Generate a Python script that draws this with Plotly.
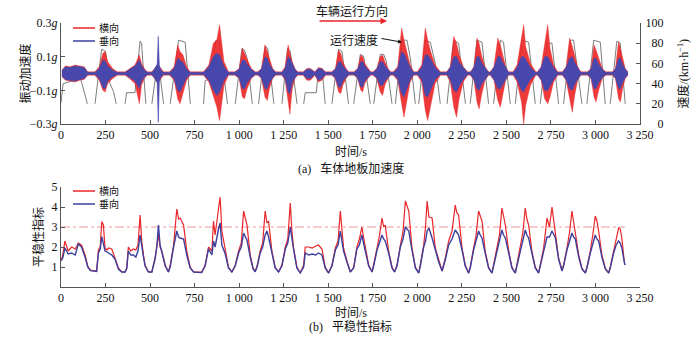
import plotly.graph_objects as go

# ---------------- data ----------------
# (a) vibration acceleration envelopes (g), one row per run between stations
ACC_T = [
    5, 25, 50, 80, 105, 130, 150,
    190, 215, 235, 248, 262, 290, 315,
    360, 385, 415, 440, 452, 470, 485,
    510, 525, 540, 546, 552, 562, 575,
    610, 635, 655, 668, 685, 705, 725,
    800, 830, 855, 875, 890, 915, 940,
    975, 1000, 1018, 1030, 1045, 1068, 1090,
    1105, 1125, 1145, 1158, 1170, 1188, 1205,
    1240, 1258, 1275, 1285, 1298, 1313, 1328,
    1360, 1380, 1400, 1425, 1445, 1465, 1485,
    1520, 1540, 1558, 1570, 1582, 1600, 1615,
    1645, 1665, 1683, 1693, 1705, 1722, 1738,
    1752, 1772, 1792, 1805, 1818, 1835, 1850,
    1865, 1890, 1912, 1925, 1940, 1960, 1980,
    2000, 2025, 2045, 2058, 2075, 2100, 2130,
    2165, 2185, 2205, 2220, 2235, 2258, 2282,
    2298, 2318, 2335, 2347, 2360, 2380, 2400,
    2410, 2430, 2452, 2466, 2480, 2496, 2512,
    2538, 2560, 2585, 2597, 2608, 2635, 2665,
    2675, 2695, 2715, 2732, 2745, 2765, 2788,
    2815, 2835, 2855, 2870, 2883, 2900, 2918,
    2955, 2975, 2992, 3003, 3018, 3038, 3058,
    3095, 3112, 3130, 3140, 3152, 3167, 3182,
]
RED_UP = [
    0.02, 0.045, 0.04, 0.05, 0.045, 0.04, 0.01,
    0.01, 0.04, 0.12, 0.13, 0.07, 0.03, 0.01,
    0.01, 0.03, 0.05, 0.11, 0.06, 0.025, 0.01,
    0.01, 0.03, 0.05, 0.05, 0.04, 0.03, 0.01,
    0.01, 0.04, 0.17, 0.13, 0.11, 0.04, 0.01,
    0.01, 0.05, 0.18, 0.20, 0.29, 0.07, 0.01,
    0.01, 0.03, 0.15, 0.12, 0.08, 0.03, 0.01,
    0.01, 0.03, 0.17, 0.13, 0.09, 0.03, 0.01,
    0.01, 0.04, 0.17, 0.12, 0.07, 0.03, 0.01,
    0.01, 0.03, 0.03, 0.01, 0.035, 0.03, 0.01,
    0.01, 0.03, 0.14, 0.12, 0.07, 0.03, 0.01,
    0.01, 0.03, 0.11, 0.10, 0.06, 0.03, 0.01,
    0.01, 0.03, 0.10, 0.11, 0.07, 0.03, 0.01,
    0.01, 0.04, 0.27, 0.20, 0.13, 0.05, 0.01,
    0.01, 0.05, 0.27, 0.20, 0.13, 0.05, 0.01,
    0.01, 0.04, 0.22, 0.18, 0.11, 0.04, 0.01,
    0.01, 0.04, 0.21, 0.18, 0.11, 0.04, 0.01,
    0.01, 0.04, 0.21, 0.17, 0.11, 0.04, 0.01,
    0.01, 0.05, 0.20, 0.29, 0.16, 0.06, 0.01,
    0.01, 0.04, 0.17, 0.29, 0.15, 0.05, 0.01,
    0.01, 0.04, 0.21, 0.16, 0.11, 0.04, 0.01,
    0.01, 0.03, 0.17, 0.14, 0.09, 0.03, 0.01,
    0.01, 0.03, 0.19, 0.15, 0.09, 0.03, 0.01,
]
RED_LO = [
    -0.02, -0.04, -0.045, -0.05, -0.04, -0.035, -0.01,
    -0.01, -0.04, -0.10, -0.11, -0.06, -0.03, -0.01,
    -0.01, -0.03, -0.06, -0.18, -0.07, -0.025, -0.01,
    -0.01, -0.03, -0.05, -0.06, -0.04, -0.03, -0.01,
    -0.01, -0.04, -0.15, -0.18, -0.11, -0.04, -0.01,
    -0.01, -0.05, -0.14, -0.20, -0.28, -0.07, -0.01,
    -0.01, -0.03, -0.14, -0.15, -0.09, -0.03, -0.01,
    -0.01, -0.03, -0.14, -0.16, -0.09, -0.03, -0.01,
    -0.01, -0.04, -0.18, -0.24, -0.09, -0.03, -0.01,
    -0.01, -0.04, -0.04, -0.01, -0.05, -0.04, -0.01,
    -0.01, -0.03, -0.11, -0.12, -0.07, -0.03, -0.01,
    -0.01, -0.03, -0.10, -0.11, -0.06, -0.03, -0.01,
    -0.01, -0.03, -0.11, -0.13, -0.07, -0.03, -0.01,
    -0.01, -0.04, -0.18, -0.26, -0.17, -0.05, -0.01,
    -0.01, -0.05, -0.22, -0.28, -0.19, -0.06, -0.01,
    -0.01, -0.05, -0.20, -0.26, -0.15, -0.05, -0.01,
    -0.01, -0.04, -0.17, -0.21, -0.13, -0.04, -0.01,
    -0.01, -0.04, -0.16, -0.20, -0.12, -0.04, -0.01,
    -0.01, -0.05, -0.17, -0.30, -0.19, -0.07, -0.01,
    -0.01, -0.04, -0.15, -0.18, -0.14, -0.05, -0.01,
    -0.01, -0.04, -0.15, -0.23, -0.13, -0.04, -0.01,
    -0.01, -0.03, -0.14, -0.17, -0.10, -0.03, -0.01,
    -0.01, -0.03, -0.15, -0.17, -0.09, -0.03, -0.01,
]
BLUE_UP = [
    0.015, 0.04, 0.035, 0.045, 0.04, 0.035, 0.006,
    0.006, 0.03, 0.08, 0.075, 0.045, 0.02, 0.006,
    0.006, 0.025, 0.045, 0.08, 0.045, 0.02, 0.006,
    0.006, 0.025, 0.055, 0.22, 0.045, 0.02, 0.006,
    0.006, 0.03, 0.09, 0.08, 0.065, 0.025, 0.006,
    0.006, 0.04, 0.10, 0.12, 0.11, 0.04, 0.006,
    0.006, 0.025, 0.08, 0.08, 0.055, 0.025, 0.006,
    0.006, 0.025, 0.10, 0.09, 0.055, 0.025, 0.006,
    0.006, 0.03, 0.10, 0.09, 0.055, 0.025, 0.006,
    0.006, 0.025, 0.025, 0.006, 0.03, 0.025, 0.006,
    0.006, 0.025, 0.07, 0.07, 0.045, 0.025, 0.006,
    0.006, 0.025, 0.07, 0.07, 0.045, 0.025, 0.006,
    0.006, 0.025, 0.07, 0.07, 0.045, 0.025, 0.006,
    0.006, 0.03, 0.13, 0.12, 0.085, 0.035, 0.006,
    0.006, 0.035, 0.11, 0.11, 0.085, 0.035, 0.006,
    0.006, 0.035, 0.10, 0.10, 0.065, 0.035, 0.006,
    0.006, 0.035, 0.10, 0.10, 0.065, 0.035, 0.006,
    0.006, 0.035, 0.10, 0.10, 0.065, 0.035, 0.006,
    0.006, 0.035, 0.10, 0.10, 0.085, 0.035, 0.006,
    0.006, 0.035, 0.10, 0.10, 0.075, 0.035, 0.006,
    0.006, 0.035, 0.09, 0.10, 0.065, 0.035, 0.006,
    0.006, 0.025, 0.09, 0.09, 0.055, 0.025, 0.006,
    0.006, 0.025, 0.09, 0.09, 0.055, 0.025, 0.006,
]
BLUE_LO = [
    -0.015, -0.035, -0.04, -0.045, -0.035, -0.03, -0.006,
    -0.006, -0.03, -0.085, -0.09, -0.045, -0.02, -0.006,
    -0.006, -0.025, -0.045, -0.09, -0.045, -0.02, -0.006,
    -0.006, -0.025, -0.055, -0.29, -0.045, -0.02, -0.006,
    -0.006, -0.03, -0.10, -0.11, -0.075, -0.025, -0.006,
    -0.006, -0.04, -0.10, -0.13, -0.11, -0.04, -0.006,
    -0.006, -0.025, -0.09, -0.09, -0.055, -0.025, -0.006,
    -0.006, -0.025, -0.09, -0.09, -0.055, -0.025, -0.006,
    -0.006, -0.03, -0.11, -0.12, -0.055, -0.025, -0.006,
    -0.006, -0.03, -0.03, -0.006, -0.04, -0.03, -0.006,
    -0.006, -0.025, -0.08, -0.08, -0.045, -0.025, -0.006,
    -0.006, -0.025, -0.08, -0.08, -0.045, -0.025, -0.006,
    -0.006, -0.025, -0.07, -0.07, -0.045, -0.025, -0.006,
    -0.006, -0.03, -0.12, -0.14, -0.095, -0.035, -0.006,
    -0.006, -0.035, -0.13, -0.14, -0.095, -0.035, -0.006,
    -0.006, -0.035, -0.10, -0.11, -0.075, -0.035, -0.006,
    -0.006, -0.035, -0.09, -0.10, -0.065, -0.035, -0.006,
    -0.006, -0.035, -0.09, -0.09, -0.065, -0.035, -0.006,
    -0.006, -0.035, -0.10, -0.11, -0.085, -0.035, -0.006,
    -0.006, -0.035, -0.10, -0.10, -0.075, -0.035, -0.006,
    -0.006, -0.035, -0.09, -0.10, -0.065, -0.035, -0.006,
    -0.006, -0.025, -0.09, -0.09, -0.055, -0.025, -0.006,
    -0.006, -0.025, -0.09, -0.09, -0.055, -0.025, -0.006,
]

# running speed (km/h); None separates runs
SPEED_T = [
    0, 12, 110, 148, None,
    191, 228, 250, 275, 295, 310, None,
    360, 368, 415, 444, 452, 476, None,
    510, 535, 552, 576, None,
    613, 660, 697, 714, 726, None,
    800, 809, 842, 870, 888, 935, None,
    978, 1016, 1030, 1045, 1074, None,
    1109, 1146, 1160, 1195, None,
    1240, 1272, 1287, 1325, None,
    1362, 1371, 1433, 1446, 1465, 1483, None,
    1521, 1558, 1577, 1614, None,
    1643, 1680, 1699, 1736, None,
    1755, 1792, 1811, 1826, 1858, None,
    1877, 1914, 1942, 1961, 1989, None,
    2008, 2045, 2073, 2101, 2129, None,
    2167, 2204, 2232, 2270, None,
    2297, 2335, 2363, 2400, None,
    2428, 2466, 2484, 2522, None,
    2550, 2587, 2625, 2662, None,
    2690, 2728, 2756, 2793, None,
    2821, 2859, 2877, 2924, None,
    2952, 2990, 3027, 3055, None,
    3083, 3120, 3139, 3167,
]
SPEED_V = [
    21, 40, 45, 20, None,
    20, 74, 72, 40, 32, 20, None,
    20, 31, 31, 82, 80, 20, None,
    20, 52, 54, 20, None,
    20, 83, 81, 42, 20, None,
    20, 43, 45, 83, 82, 20, None,
    20, 75, 73, 65, 20, None,
    20, 77, 75, 20, None,
    20, 75, 72, 20, None,
    20, 31, 31, 55, 55, 20, None,
    20, 74, 72, 20, None,
    20, 69, 67, 20, None,
    20, 69, 69, 62, 20, None,
    20, 83, 83, 65, 20, None,
    20, 83, 81, 60, 20, None,
    20, 83, 80, 20, None,
    20, 83, 81, 20, None,
    20, 83, 81, 20, None,
    20, 83, 81, 20, None,
    20, 80, 80, 20, None,
    20, 83, 83, 20, None,
    20, 83, 81, 20, None,
    20, 82, 80, 20,
]

# (b) ride index
IDX_T = [
    0, 10, 22, 40, 60, 80, 97, 115, 135, 150, 165, 185,
    200, 210, 220, 229, 238, 247, 258, 268, 285, 303, 322, 341,
    360, 369, 378, 392, 406, 420, 432, 444, 453, 463, 472, 491,
    510, 528, 538, 547, 556, 566, 585, 603,
    613, 632, 650, 660, 669, 688, 706, 725, 744, 790,
    809, 828, 847, 856, 865, 884, 893, 903, 922, 940, 959,
    978, 997, 1012, 1025, 1035, 1044, 1062, 1078, 1090,
    1102, 1118, 1132, 1146, 1156, 1165, 1184, 1202, 1221,
    1240, 1259, 1273, 1287, 1296, 1305, 1324, 1343,
    1362, 1371, 1390, 1410, 1430, 1445, 1465, 1483, 1502,
    1521, 1540, 1555, 1568, 1577, 1586, 1605, 1624,
    1643, 1661, 1675, 1689, 1698, 1708, 1727, 1746,
    1755, 1774, 1788, 1802, 1811, 1820, 1839, 1858, 1872,
    1886, 1905, 1920, 1933, 1942, 1952, 1970, 1989, 2008,
    2017, 2036, 2046, 2055, 2065, 2083, 2101, 2120, 2139,
    2157, 2176, 2195, 2213, 2222, 2232, 2251, 2269, 2288,
    2297, 2316, 2330, 2344, 2353, 2363, 2381, 2400, 2419,
    2428, 2447, 2461, 2475, 2484, 2494, 2513, 2531, 2550,
    2559, 2578, 2592, 2606, 2615, 2625, 2643, 2662, 2681,
    2690, 2709, 2728, 2742, 2756, 2775, 2793, 2812,
    2821, 2840, 2854, 2868, 2877, 2887, 2906, 2924, 2943,
    2952, 2971, 2985, 2999, 3008, 3018, 3036, 3055, 3074,
    3083, 3102, 3116, 3130, 3139, 3148, 3160, 3165,
]
IDX_LAT = [
    1.3, 1.6, 2.3, 1.8, 2.0, 1.9, 2.2, 2.1, 1.6, 1.05, 0.85, 0.8,
    0.8, 1.85, 2.0, 3.27, 3.1, 1.95, 1.85, 1.95, 1.9, 1.45, 0.95, 0.75,
    0.75, 0.95, 2.0, 1.8, 1.9, 1.85, 2.1, 3.6, 2.3, 1.6, 1.1, 0.75,
    0.75, 1.45, 2.1, 2.6, 2.0, 1.8, 1.1, 0.75,
    1.1, 2.1, 3.9, 3.4, 3.45, 3.1, 1.8, 1.0, 0.75, 0.75,
    1.1, 2.0, 1.8, 3.3, 2.6, 3.9, 4.5, 2.8, 1.8, 1.0, 0.75,
    1.1, 1.8, 2.2, 3.8, 3.4, 3.1, 1.6, 0.95, 0.78,
    1.1, 1.8, 2.2, 3.8, 3.2, 3.3, 1.8, 1.0, 0.75,
    1.1, 2.0, 2.4, 4.2, 2.8, 2.0, 1.0, 0.7,
    1.1, 2.0, 2.0, 1.95, 2.05, 2.1, 1.9, 1.0, 0.7,
    1.1, 1.95, 2.3, 3.8, 2.6, 1.95, 1.3, 0.75,
    1.0, 2.0, 2.4, 3.0, 2.5, 1.95, 1.1, 0.75,
    1.1, 1.95, 2.6, 3.45, 3.0, 3.1, 1.8, 1.0, 0.75,
    1.1, 2.1, 2.8, 4.3, 4.0, 3.8, 1.95, 1.0, 0.7,
    1.1, 2.1, 3.0, 4.3, 3.5, 3.45, 1.95, 1.3, 0.8,
    1.45, 2.3, 2.8, 4.1, 3.7, 3.6, 1.95, 1.1, 0.7,
    1.0, 1.95, 2.6, 3.8, 3.5, 3.3, 1.8, 1.0, 0.7,
    1.1, 1.95, 2.6, 3.95, 3.5, 3.1, 1.8, 1.0, 0.7,
    1.1, 1.95, 2.7, 3.95, 3.4, 3.1, 1.8, 1.0, 0.7,
    1.1, 1.95, 3.45, 3.0, 4.0, 2.8, 1.45, 0.85,
    1.1, 1.95, 2.7, 3.8, 3.3, 2.8, 1.6, 0.95, 0.7,
    1.0, 1.8, 2.6, 3.55, 3.3, 2.8, 1.6, 0.95, 0.7,
    1.0, 1.8, 2.4, 2.95, 2.9, 2.45, 1.4, 1.1,
]
IDX_VER = [
    1.3, 1.45, 1.95, 1.65, 1.7, 1.6, 2.15, 2.0, 1.5, 1.0, 0.82, 0.78,
    0.78, 1.7, 1.9, 2.52, 2.2, 1.8, 1.75, 1.7, 1.6, 1.4, 0.9, 0.75,
    0.75, 0.92, 1.8, 1.6, 1.6, 1.5, 1.8, 2.6, 2.0, 1.5, 1.05, 0.75,
    0.75, 1.4, 2.0, 3.1, 2.1, 1.75, 1.05, 0.75,
    1.0, 2.0, 2.8, 2.5, 2.45, 2.4, 1.6, 0.95, 0.75, 0.72,
    1.05, 1.9, 1.6, 2.3, 2.0, 2.9, 3.2, 2.1, 1.65, 0.95, 0.75,
    1.05, 1.7, 2.0, 2.7, 2.5, 2.35, 1.5, 0.9, 0.76,
    1.05, 1.7, 2.0, 2.6, 2.8, 2.5, 1.7, 0.95, 0.75,
    1.05, 1.9, 2.2, 3.0, 2.4, 1.9, 0.95, 0.7,
    1.0, 1.7, 1.6, 1.65, 1.6, 1.7, 1.6, 0.95, 0.7,
    1.05, 1.85, 2.1, 2.8, 2.3, 1.8, 1.25, 0.75,
    0.95, 1.9, 2.1, 2.6, 2.2, 1.8, 1.05, 0.75,
    1.05, 1.85, 2.2, 2.6, 2.4, 2.3, 1.7, 0.95, 0.75,
    1.05, 2.0, 2.4, 3.0, 2.9, 2.8, 1.85, 0.95, 0.7,
    1.05, 2.0, 2.3, 2.8, 2.95, 2.45, 1.85, 1.25, 0.8,
    1.35, 2.1, 2.4, 2.85, 2.7, 2.6, 1.85, 1.05, 0.7,
    0.95, 1.85, 2.3, 2.8, 2.6, 2.45, 1.7, 0.95, 0.7,
    1.05, 1.85, 2.3, 2.85, 2.6, 2.45, 1.7, 0.95, 0.7,
    1.05, 1.85, 2.3, 2.85, 2.6, 2.45, 1.7, 0.95, 0.7,
    1.05, 1.85, 2.5, 2.5, 2.8, 2.45, 1.4, 0.8,
    1.05, 1.85, 2.3, 2.7, 2.5, 2.4, 1.5, 0.9, 0.7,
    0.95, 1.7, 2.2, 2.6, 2.4, 2.3, 1.5, 0.9, 0.7,
    0.95, 1.7, 2.1, 2.3, 2.2, 1.95, 1.4, 1.1,
]
LIMIT_T = [0, 3165]
LIMIT_V = [3, 3]

X_TICKS = [0, 250, 500, 750, 1000, 1250, 1500, 1750, 2000, 2250, 2500, 2750, 3000, 3250]
X_LABELS = ["0", "250", "500", "750", "1 000", "1 250", "1 500", "1 750", "2 000",
            "2 250", "2 500", "2 750", "3 000", "3 250"]
ACC_TICKS = [-0.3, -0.1, 0.1, 0.3]
ACC_LABELS = ["\u22120.3<i>g</i>", "\u22120.1<i>g</i>", "0.1<i>g</i>", "0.3<i>g</i>"]
SPEED_TICKS = [0, 20, 40, 60, 80, 100]
SPEED_LABELS = ["\u2007\u20070", "\u200720", "\u200740", "\u200760", "\u200780", "100"]
IDX_TICKS = [1, 2, 3, 4, 5]
SERIES_NAMES = ["横向", "垂向"]

# ---------------- style ----------------
RED = "#e8262a"
BLUE = "#3d3f9c"
RED_FILL = "rgba(236,40,40,0.92)"
BLUE_FILL = "rgb(72,72,172)"
GRAY = "#6e6e6e"
AX = "#555555"
FONT = "Liberation Serif, Noto Sans CJK SC, serif"

fig = go.Figure()

# speed (drawn first, behind)
fig.add_trace(go.Scatter(x=SPEED_T, y=SPEED_V, xaxis="x", yaxis="y", mode="lines",
                         line=dict(color=GRAY, width=0.9), connectgaps=False))
# acceleration envelopes
fig.add_trace(go.Scatter(x=ACC_T, y=RED_LO, xaxis="x", yaxis="y2", mode="lines",
                         line=dict(color=RED, width=0.4)))
fig.add_trace(go.Scatter(x=ACC_T, y=RED_UP, xaxis="x", yaxis="y2", mode="lines",
                         line=dict(color=RED, width=0.4), fill="tonexty",
                         fillcolor=RED_FILL))
fig.add_trace(go.Scatter(x=ACC_T, y=BLUE_LO, xaxis="x", yaxis="y2", mode="lines",
                         line=dict(color=BLUE_FILL, width=0.6)))
fig.add_trace(go.Scatter(x=ACC_T, y=BLUE_UP, xaxis="x", yaxis="y2", mode="lines",
                         line=dict(color=BLUE_FILL, width=0.6), fill="tonexty",
                         fillcolor=BLUE_FILL))

# (b) ride index
fig.add_trace(go.Scatter(x=LIMIT_T, y=LIMIT_V, xaxis="x2", yaxis="y3", mode="lines",
                         line=dict(color="rgba(235,110,110,0.7)", width=1, dash="dashdot")))
fig.add_trace(go.Scatter(x=IDX_T, y=IDX_LAT, xaxis="x2", yaxis="y3", mode="lines",
                         line=dict(color=RED, width=1.2), name=SERIES_NAMES[0]))
fig.add_trace(go.Scatter(x=IDX_T, y=IDX_VER, xaxis="x2", yaxis="y3", mode="lines",
                         line=dict(color=BLUE, width=1.4), name=SERIES_NAMES[1]))

axis_common = dict(showline=True, linecolor=AX, linewidth=1, ticks="inside", ticklen=4,
                   tickcolor=AX, showgrid=False, zeroline=False,
                   tickfont=dict(family=FONT, size=12, color="#111"))

PLOT_H = 264
TOP_LOW = 1 - 101 / PLOT_H
BOT_HIGH = 1 - 164 / PLOT_H


def px_x(px):
    return (px - 61) / 579


def px_y(py):
    return 1 - (py - 23) / PLOT_H


fig.update_layout(
    width=700, height=337,
    margin=dict(l=61, r=60, t=23, b=50),
    paper_bgcolor="white", plot_bgcolor="white",
    showlegend=False,
    font=dict(family=FONT, size=12, color="#111"),
    xaxis=dict(domain=[0, 1], range=[0, 3250], anchor="y", tickvals=X_TICKS,
               ticktext=X_LABELS, **axis_common),
    yaxis=dict(domain=[TOP_LOW, 1], range=[0, 100], side="right", anchor="x",
               tickvals=SPEED_TICKS, ticktext=SPEED_LABELS, ticklabelstandoff=2,
               **axis_common),
    yaxis2=dict(range=[-0.3, 0.3], overlaying="y", side="left", anchor="x",
                tickvals=ACC_TICKS, ticktext=ACC_LABELS, **axis_common),
    xaxis2=dict(domain=[0, 1], range=[0, 3250], anchor="y3", tickvals=X_TICKS,
                ticktext=X_LABELS, **axis_common),
    yaxis3=dict(domain=[0, BOT_HIGH], range=[0, 5], anchor="x2",
                tickvals=IDX_TICKS, **axis_common),
)

ann_font = dict(family=FONT, size=12, color="#111")
anns = [
    dict(text="振动加速度", x=px_x(25), y=(TOP_LOW + 1) / 2, textangle=-90),
    dict(text="平稳性指标", x=px_x(38), y=BOT_HIGH / 2, textangle=-90),
    dict(text="速度/(km·h<sup>−1</sup>)", x=px_x(683), y=(TOP_LOW + 1) / 2, textangle=-90),
    dict(text="时间/s", x=px_x(351), y=px_y(152)),
    dict(text="(a)   车体地板加速度", x=px_x(351), y=px_y(168)),
    dict(text="时间/s", x=px_x(351), y=px_y(313)),
    dict(text="(b)   平稳性指标", x=px_x(350), y=px_y(326)),
    dict(text="车辆运行方向", x=px_x(352), y=px_y(11)),
    dict(text="运行速度", x=px_x(354), y=px_y(40)),
]
for a in anns:
    fig.add_annotation(xref="paper", yref="paper", showarrow=False, font=ann_font,
                       xanchor="center", yanchor="middle", **a)

# hand-placed legends (tight spacing as in the reference)
LEG_STEP = 13
for legend_top in (28, 191):
    for k, col in enumerate((RED, BLUE)):
        yy = px_y(legend_top + LEG_STEP * k)
        fig.add_shape(type="line", xref="paper", yref="paper", x0=px_x(73), x1=px_x(95),
                      y0=yy, y1=yy, line=dict(color=col, width=1.5))
    fig.add_annotation(xref="paper", yref="paper", x=px_x(97),
                       y=px_y(legend_top + LEG_STEP / 2),
                       text="<br>".join(SERIES_NAMES), showarrow=False,
                       xanchor="left", yanchor="middle", align="left",
                       font=dict(family=FONT, size=10, color="#111"))

# direction arrow
fig.add_annotation(xref="paper", yref="paper", x=px_x(387), y=px_y(21),
                   ax=-69, ay=0, text="", showarrow=True, arrowhead=2, arrowsize=1,
                   arrowwidth=1.3, arrowcolor=RED)
# pointer to speed curve
fig.add_annotation(xref="x", yref="y", x=1914, y=81, ax=-22, ay=-4, text="",
                   showarrow=True, arrowhead=2, arrowsize=0.8, arrowwidth=1,
                   arrowcolor="#111")

fig.write_html("out.html")
